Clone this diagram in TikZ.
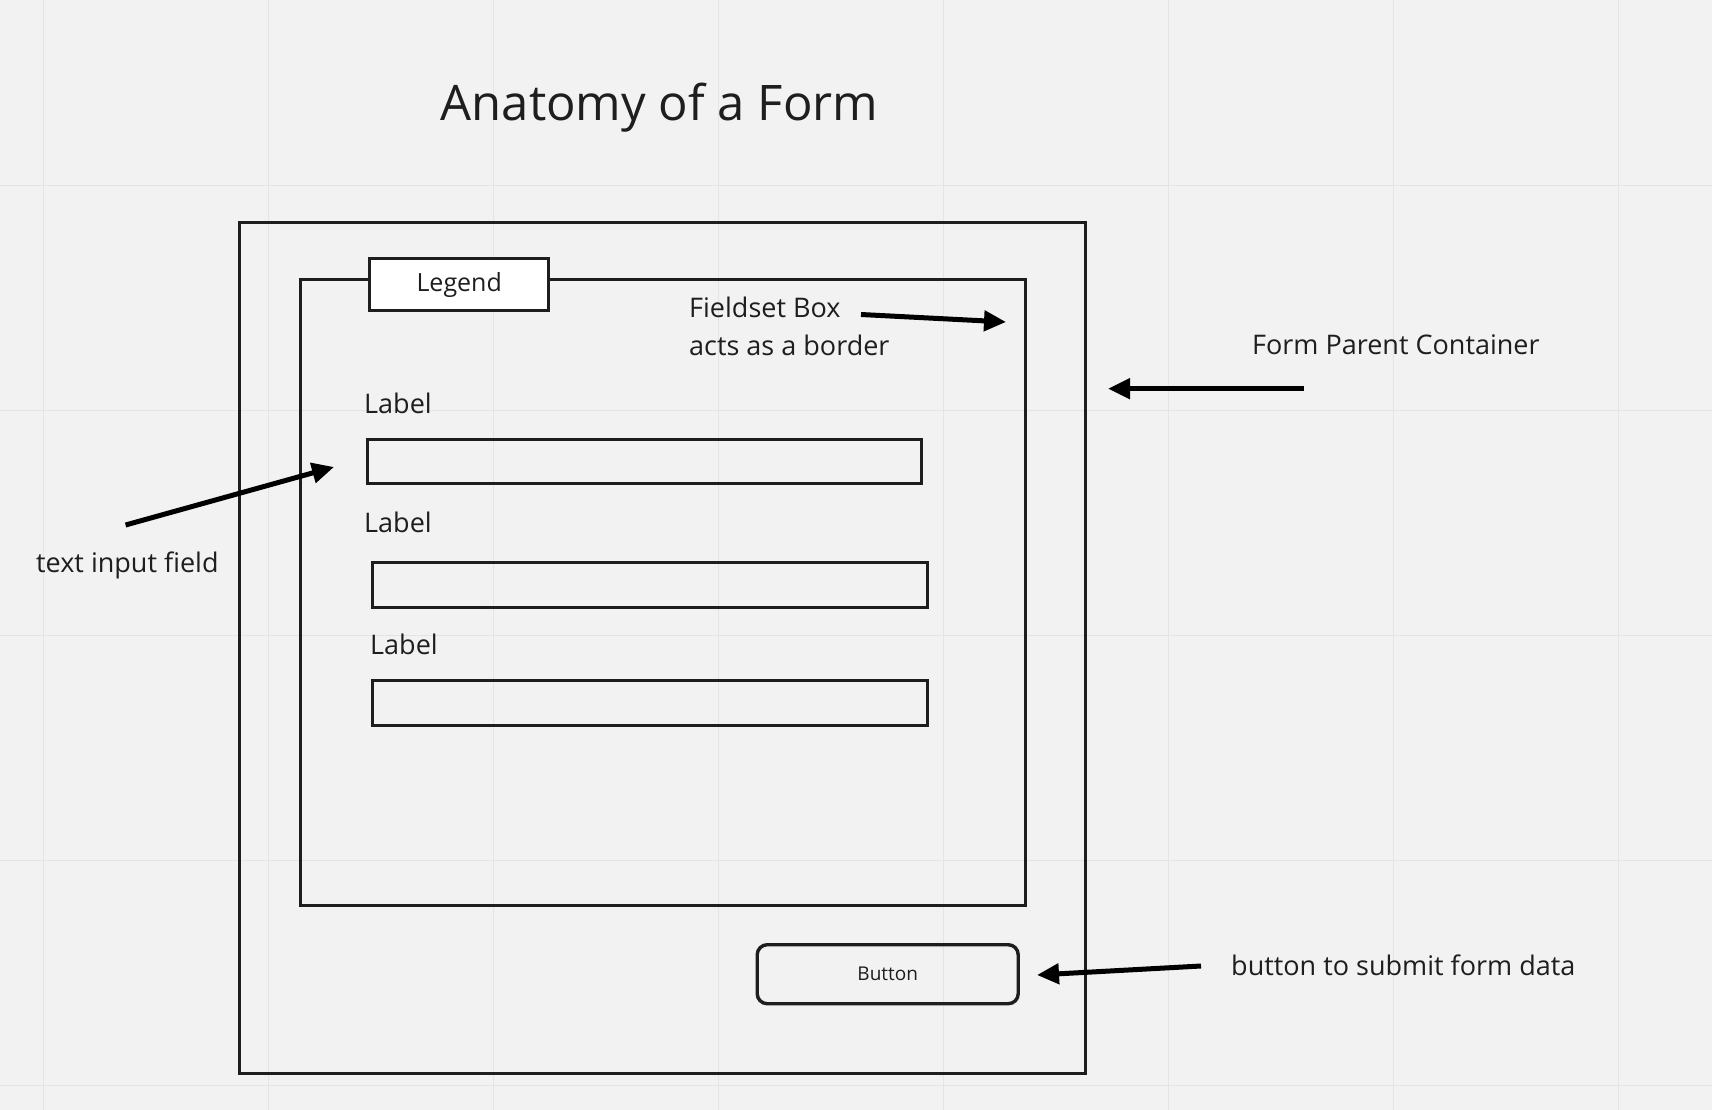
\documentclass[tikz,border=0pt]{standalone}
\usepackage{fontspec}
\setmainfont{Open Sans}
\usetikzlibrary{arrows.meta}
\definecolor{bg}{HTML}{F2F2F2}
\definecolor{gridc}{HTML}{E4E4E4}
\definecolor{ink}{HTML}{1E1E1E}
\tikzset{
  box/.style={draw=ink, line width=3.4pt, inner sep=0pt, anchor=north west},
  txt/.style={inner sep=0pt, text=ink, font=\fontsize{27}{38}\selectfont},
  pointer/.style={draw=black, line width=5pt, -{Triangle[length=22pt,width=20pt]}},
}
\begin{document}
\begin{tikzpicture}[x=1pt,y=-1pt]
\useasboundingbox[fill=bg] (0,0) rectangle (1712,1110);
% grid
\foreach \gx in {0,...,7} \draw[gridc, line width=1.5pt] ({43.7+225*\gx},0) -- ({43.7+225*\gx},1110);
\foreach \gy in {0,...,4} \draw[gridc, line width=1.5pt] (0,{185.6+225*\gy}) -- (1712,{185.6+225*\gy});
% title
\node[txt, font=\fontsize{49}{60}\selectfont] (title) at (659.5,108) {Anatomy of a Form};
% outer form container
\node[box, minimum width=846pt, minimum height=851pt] (form) at (238,221) {};
% fieldset
\node[box, minimum width=725pt, minimum height=626pt] (fieldset) at (299,278) {};
% legend
\node[box, fill=white, minimum width=179pt, minimum height=52pt, font=\fontsize{25}{30}\selectfont, text=ink] (legend) at (368,257) {Legend};
% labels and inputs
\node[txt, anchor=west] (lab1) at (364,403) {Label};
\node[box, minimum width=554pt, minimum height=44pt] (in1) at (366,438) {};
\node[txt, anchor=west] (lab2) at (364,522) {Label};
\node[box, minimum width=555pt, minimum height=45pt] (in2) at (371,561) {};
\node[txt, anchor=west] (lab3) at (370,644) {Label};
\node[box, minimum width=555pt, minimum height=45pt] (in3) at (371,679) {};
% button
\node[box, rounded corners=10pt, minimum width=261pt, minimum height=59pt, font=\fontsize{19}{22}\selectfont, text=ink] (button) at (755.5,943) {Button};
% annotations
\node[txt, anchor=west, align=left] (fstext) at (689,326) {Fieldset Box\\acts as a border};
\node[txt, anchor=west] (formtext) at (1252,345) {Form Parent Container};
\node[txt, anchor=west] (inputtext) at (36,565) {text input field};
\node[txt, anchor=west] (buttontext) at (1231,965) {button to submit form data};
% arrow endpoints
\coordinate (fsA) at (861,314.5);
\coordinate (fsB) at (1006,322);
\coordinate (fmA) at (1304,388.7);
\coordinate (fmB) at (1108,388.7);
\coordinate (inA) at (125.6,525);
\coordinate (inB) at (334,467);
\coordinate (btA) at (1201,966);
\coordinate (btB) at (1037,975);
\draw[pointer] (fsA) -- (fsB);
\draw[pointer] (fmA) -- (fmB);
\draw[pointer] (inA) -- (inB);
\draw[pointer] (btA) -- (btB);
\end{tikzpicture}
\end{document}
